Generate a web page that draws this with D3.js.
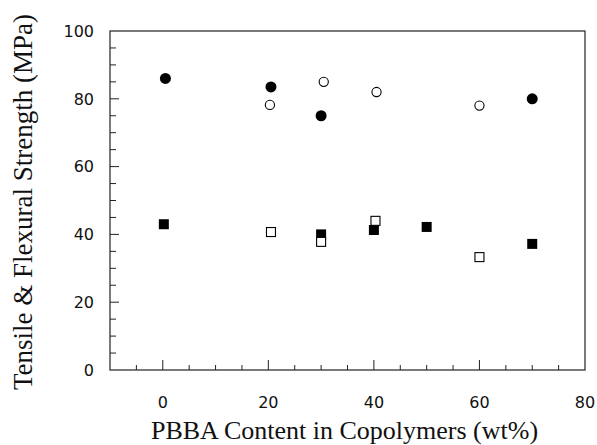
<!DOCTYPE html>
<html>
<head>
<meta charset="utf-8">
<script src="https://cdn.jsdelivr.net/npm/d3@7"></script>
<style>
  body { margin: 0; background: #fff; }
  .tick-label { font-family: "DejaVu Sans", sans-serif; font-size: 16px; fill: #111; }
  .axis-title { font-family: "Liberation Serif", serif; font-size: 26px; fill: #111; }
</style>
</head>
<body>
<div id="chart"></div>
<script>
// flexural strength (circles), filled and open
var flexFilledX = [0.5, 20.5, 30, 70];
var flexFilledY = [86, 83.5, 75, 80];
var flexOpenX = [20.3, 30.5, 40.5, 60];
var flexOpenY = [78.2, 85, 82, 78];

// tensile strength (squares), filled and open
var tensFilledX = [0.2, 30, 40, 50, 70];
var tensFilledY = [43, 40, 41.3, 42.2, 37.2];
var tensOpenX = [20.5, 30, 40.3, 60];
var tensOpenY = [40.7, 37.8, 44, 33.3];

var xTicks = [0, 20, 40, 60, 80];
var yTicks = [0, 20, 40, 60, 80, 100];

var width = 597;
var height = 445;
var plotLeft = 110, plotRight = 585, plotTop = 31, plotBottom = 370;

var svg = d3.select("#chart")
  .append("svg")
  .attr("width", width)
  .attr("height", height);

var xScale = d3.scaleLinear().domain([-10, 80]).range([plotLeft, plotRight]);
var yScale = d3.scaleLinear().domain([0, 100]).range([plotBottom, plotTop]);

/* frame */
svg.append("rect")
  .attr("x", plotLeft)
  .attr("y", plotTop)
  .attr("width", plotRight - plotLeft)
  .attr("height", plotBottom - plotTop)
  .attr("fill", "none")
  .attr("stroke", "#222")
  .attr("stroke-width", 1.2);

/* ticks, pointing inward */
var minorX = d3.range(-5, 80, 5);
var minorY = d3.range(5, 100, 5);

svg.append("g")
  .selectAll("line")
  .data(minorX)
  .enter()
  .append("line")
  .attr("x1", (d) => xScale(d))
  .attr("x2", (d) => xScale(d))
  .attr("y1", plotBottom)
  .attr("y2", (d) => plotBottom - (d % 20 === 0 ? 10 : 5))
  .attr("stroke", "#222")
  .attr("stroke-width", 1);

svg.append("g")
  .selectAll("line")
  .data(minorY)
  .enter()
  .append("line")
  .attr("y1", (d) => yScale(d))
  .attr("y2", (d) => yScale(d))
  .attr("x1", plotLeft)
  .attr("x2", (d) => plotLeft + (d % 20 === 0 ? 9 : 6))
  .attr("stroke", "#222")
  .attr("stroke-width", 1);

/* tick labels */
svg.append("g")
  .selectAll("text")
  .data(xTicks)
  .enter()
  .append("text")
  .attr("class", "tick-label")
  .attr("x", (d) => xScale(d))
  .attr("y", 408)
  .attr("text-anchor", "middle")
  .text((d) => d);

svg.append("g")
  .selectAll("text")
  .data(yTicks)
  .enter()
  .append("text")
  .attr("class", "tick-label")
  .attr("x", 94)
  .attr("y", (d) => yScale(d))
  .attr("dy", "0.36em")
  .attr("text-anchor", "end")
  .text((d) => d);

/* axis titles */
svg.append("text")
  .attr("class", "axis-title")
  .attr("x", (plotLeft + plotRight) / 2 - 3)
  .attr("y", 439)
  .attr("text-anchor", "middle")
  .text("PBBA Content in Copolymers (wt%)");

svg.append("text")
  .attr("class", "axis-title")
  .style("font-size", "27px")
  .attr("transform", "translate(32," + 202 + ") rotate(-90)")
  .attr("text-anchor", "middle")
  .text("Tensile & Flexural Strength (MPa)");

/* markers */
function pts(xs, ys) {
  return xs.map((x, i) => ({ x: x, y: ys[i] }));
}

var marks = svg.append("g");

marks.selectAll(".flex-filled")
  .data(pts(flexFilledX, flexFilledY))
  .enter()
  .append("circle")
  .attr("cx", (d) => xScale(d.x))
  .attr("cy", (d) => yScale(d.y))
  .attr("r", 5.5)
  .attr("fill", "#000");

marks.selectAll(".flex-open")
  .data(pts(flexOpenX, flexOpenY))
  .enter()
  .append("circle")
  .attr("cx", (d) => xScale(d.x))
  .attr("cy", (d) => yScale(d.y))
  .attr("r", 4.6)
  .attr("fill", "#fff")
  .attr("stroke", "#000")
  .attr("stroke-width", 1.1);

var sq = 10;
marks.selectAll(".tens-filled")
  .data(pts(tensFilledX, tensFilledY))
  .enter()
  .append("rect")
  .attr("x", (d) => xScale(d.x) - sq / 2)
  .attr("y", (d) => yScale(d.y) - sq / 2)
  .attr("width", sq)
  .attr("height", sq)
  .attr("fill", "#000");

marks.selectAll(".tens-open")
  .data(pts(tensOpenX, tensOpenY))
  .enter()
  .append("rect")
  .attr("x", (d) => xScale(d.x) - 4.5)
  .attr("y", (d) => yScale(d.y) - 4.5)
  .attr("width", 9)
  .attr("height", 9)
  .attr("fill", "#fff")
  .attr("stroke", "#000")
  .attr("stroke-width", 1.1);
</script>
</body>
</html>
